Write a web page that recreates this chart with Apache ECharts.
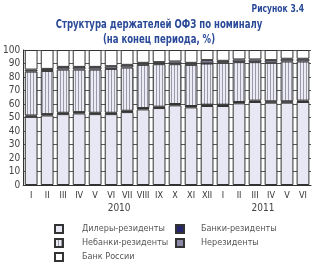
<!DOCTYPE html>
<html>
<head>
<meta charset="utf-8">
<script src="https://cdn.jsdelivr.net/npm/echarts@6/dist/echarts.min.js"></script>
<style>
  html, body { margin: 0; padding: 0; background: #fff; }
  #chart { width: 314px; height: 264px; }
</style>
</head>
<body>
<div id="chart"></div>
<script>
// данные (на конец периода, %)
const months = ['I', 'II', 'III', 'IV', 'V', 'VI', 'VII', 'VIII', 'IX', 'X', 'XI', 'XII',
                'I', 'II', 'III', 'IV', 'V', 'VI']
const dealers  = [50.5, 51.5, 52.5, 53, 52.5, 52.5, 54, 56, 57, 59, 57.5, 58.5, 58.5, 60.5, 61.5, 61, 61, 61.5]
const banks    = [1, 1, 1, 1, 1, 1, 1, 1, 1, 1, 1, 1, 1, 1, 1, 1, 1, 1]
const nonbanks = [32.5, 32, 32, 31.5, 32, 32.5, 32, 32, 31.5, 29.5, 30.5, 30.5, 31, 29.5, 28.5, 28.5, 29.5, 29]
const nonres   = [1.5, 1.5, 2, 2, 2, 2, 2, 1.5, 1.5, 2, 1.5, 2.5, 1.5, 2, 2, 2, 2, 2]
const cbr      = [14.5, 14, 12.5, 12.5, 12.5, 12, 11, 9.5, 9, 8.5, 9.5, 7.5, 8, 7, 7, 7.5, 6.5, 6.5]
const yearLabels = { 6: '2010', 15: '2011' }

// штриховка для небанков
const hatch = document.createElement('canvas')
hatch.width = 3
hatch.height = 4
const hctx = hatch.getContext('2d')
hctx.fillStyle = '#ebebf3'
hctx.fillRect(0, 0, 3, 4)
hctx.fillStyle = '#9a9aaa'
hctx.fillRect(0, 0, 1, 4)

const font = '"DejaVu Sans Condensed", "Liberation Sans Narrow", "Liberation Sans", sans-serif'
const titleColor = '#2a4a98'
const border = { borderColor: '#333', borderWidth: 1 }

const chart = echarts.init(document.getElementById('chart'))

const mk = (name, data, color) => ({
  name,
  type: 'bar',
  stack: 'all',
  data,
  barCategoryGap: '20%',
  itemStyle: Object.assign({ color }, border),
  emphasis: { disabled: true }
})

const legendText = { fontSize: 9, color: '#555', fontFamily: font }

chart.setOption({
  animation: false,
  textStyle: { fontFamily: font },
  graphic: [
    {
      type: 'text', x: 304, y: 4,
      scaleX: 0.85,
      style: { text: 'Рисунок 3.4', align: 'right', font: 'bold 10px ' + font, fill: titleColor }
    },
    {
      type: 'text', x: 159, y: 17,
      scaleX: 0.73,
      style: {
        text: 'Структура держателей ОФЗ по номиналу\n(на конец периода, %)',
        align: 'center', font: 'bold 13px ' + font, lineHeight: 15, fill: titleColor
      }
    }
  ],
  legend: [
    {
      data: ['Дилеры-резиденты', 'Небанки-резиденты', 'Банк России'],
      orient: 'vertical', left: 54, top: 224, padding: 0,
      icon: 'rect', itemWidth: 8, itemHeight: 8, itemGap: 4,
      textStyle: Object.assign({ padding: [0, 0, 0, 14] }, legendText)
    },
    {
      data: ['Банки-резиденты', 'Нерезиденты'],
      orient: 'vertical', left: 175, top: 224, padding: 0,
      icon: 'rect', itemWidth: 8, itemHeight: 8, itemGap: 4,
      textStyle: Object.assign({ padding: [0, 0, 0, 12] }, legendText)
    }
  ],
  grid: { left: 20, right: 3, top: 50, bottom: 79 },
  xAxis: [
    {
      type: 'category',
      data: months,
      axisLine: { lineStyle: { color: '#333' } },
      axisTick: { show: false },
      axisLabel: { color: '#333', fontSize: 9, margin: 6, interval: 0 }
    },
    {
      type: 'value',
      position: 'bottom',
      min: 0, max: 18, interval: 3,
      axisLine: { show: false },
      axisTick: { show: false },
      splitLine: { show: false },
      axisLabel: {
        color: '#444', fontSize: 10, margin: 18,
        formatter: v => yearLabels[v] || ''
      }
    }
  ],
  yAxis: {
    type: 'value',
    min: 0, max: 100, interval: 10,
    axisLine: { show: true, lineStyle: { color: '#333' } },
    axisTick: { show: false },
    axisLabel: { color: '#444', fontSize: 10, margin: 3 },
    splitLine: { lineStyle: { color: '#555' } }
  },
  series: [
    mk('Дилеры-резиденты', dealers, '#e8e8f4'),
    mk('Банки-резиденты', banks, '#25256e'),
    mk('Небанки-резиденты', nonbanks, { image: hatch, repeat: 'repeat' }),
    mk('Нерезиденты', nonres, '#8a8aa6'),
    mk('Банк России', cbr, '#ffffff')
  ]
})
</script>
</body>
</html>
